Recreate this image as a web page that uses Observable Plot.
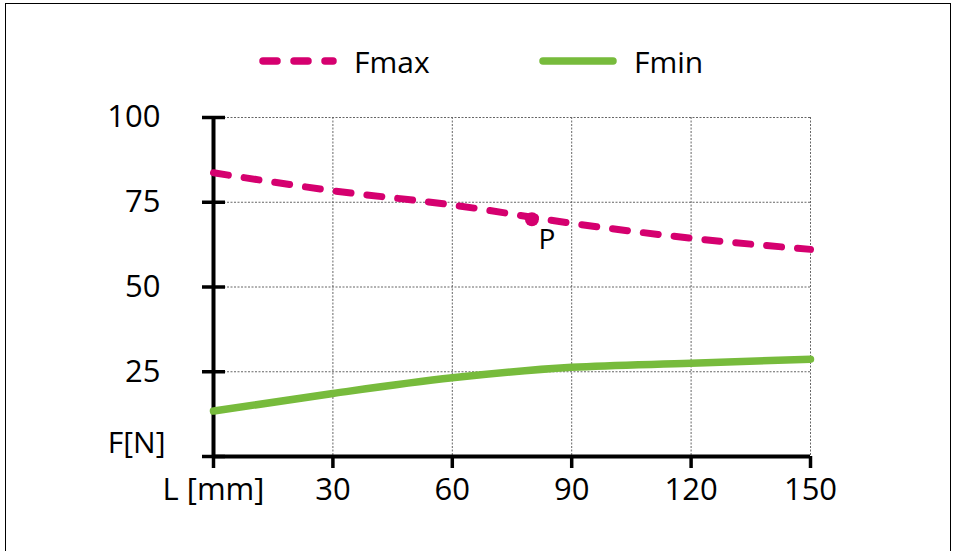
<!DOCTYPE html>
<html>
<head>
<meta charset="utf-8">
<script src="https://cdn.jsdelivr.net/npm/d3@7"></script>
<script src="https://cdn.jsdelivr.net/npm/@observablehq/plot@0.6"></script>
<style>
  html, body { margin: 0; padding: 0; background: #fff; }
  body { width: 954px; height: 551px; position: relative; overflow: hidden; font-family: "Open Sans", sans-serif; }
  #frame { position: absolute; left: 5px; top: 3px; width: 946px; height: 600px; border: 1px solid #000; box-sizing: border-box; }
  #chart { position: absolute; left: 0; top: 0; }
  .leg { position: absolute; top: 43px; height: 36px; display: flex; align-items: center; font-size: 30px; color: #000; }
  .leg svg { margin-right: 14px; }
</style>
</head>
<body>
<div id="frame"></div>
<div id="chart"></div>
<div class="leg" id="leg1" style="left:256px"></div>
<div class="leg" id="leg2" style="left:536px"></div>
<script>
// ---- data ----
const L = [0, 30, 60, 90, 120, 150];
const Fmax = [83.7, 78.4, 74.2, 68.8, 64.4, 61.1];
const Fmin = [13.4, 18.6, 23.2, 26.3, 27.5, 28.7];
const pointL = [80];
const pointF = [70];
const pointLabel = ["P"];
const xTicks = [0, 30, 60, 90, 120, 150];
const yTicks = [0, 25, 50, 75, 100];
const xZeroLabel = "L [mm]";
const yTitle = "F[N]";
const seriesNames = ["Fmax", "Fmin"];
const colors = ["#d5006f", "#77bb3c"];

const chart = Plot.plot({
  width: 954,
  height: 551,
  marginLeft: 213,
  marginRight: 144,
  marginTop: 117,
  marginBottom: 95,
  style: { fontFamily: "Open Sans", fontSize: "31px", color: "#000", background: "transparent", overflow: "visible" },
  x: { domain: [0, 150] },
  y: { domain: [0, 100] },
  marks: [
    Plot.gridX(xTicks.filter(d => d > 0), { stroke: "#666", strokeOpacity: 1, strokeWidth: 1, strokeDasharray: "2,1.5" }),
    Plot.gridY(yTicks.filter(d => d > 0), { stroke: "#666", strokeOpacity: 1, strokeWidth: 1, strokeDasharray: "2,1.5" }),
    Plot.ruleX([0], { stroke: "#000", strokeWidth: 4 }),
    Plot.ruleY([0], { stroke: "#000", strokeWidth: 4 }),
    Plot.axisY(yTicks, { tickSize: 23, dx: 12, tickFormat: () => "", label: null, stroke: "#000", strokeWidth: 3.5 }),
    Plot.axisY(yTicks.filter(d => d > 0), { tickSize: 0, tickPadding: 53, label: null, fontSize: 31, fill: "#000" }),
    Plot.axisX(xTicks, { tickSize: 12, tickPadding: 9, strokeWidth: 3.5, stroke: "#000", label: null, fontSize: 31, fill: "#000",
      tickFormat: d => d === 0 ? xZeroLabel : String(d) }),
    Plot.text([yTitle], { frameAnchor: "bottom-left", dx: -48, dy: -13, textAnchor: "end", lineAnchor: "middle", fontSize: 30, fill: "#000" }),
    Plot.line(L, { x: d => d, y: (d, i) => Fmin[i], stroke: colors[1], strokeWidth: 7.5, strokeLinecap: "round", curve: "monotone-x" }),
    Plot.line(L, { x: d => d, y: (d, i) => Fmax[i], stroke: colors[0], strokeWidth: 7, strokeDasharray: "15,16", strokeLinecap: "round", curve: "monotone-x" }),
    Plot.dot(pointL, { x: d => d, y: (d, i) => pointF[i], r: 7, fill: colors[0], stroke: "none" }),
    Plot.text(pointL, { x: d => d, y: (d, i) => pointF[i], text: (d, i) => pointLabel[i], dx: 15, dy: 21, fontSize: 28, fill: "#000" })
  ]
});
document.getElementById("chart").appendChild(chart);

// ---- legend ----
function swatch(color, dashed) {
  const ns = "http://www.w3.org/2000/svg";
  const s = document.createElementNS(ns, "svg");
  s.setAttribute("width", 84); s.setAttribute("height", 14);
  const l = document.createElementNS(ns, "line");
  l.setAttribute("x1", 7); l.setAttribute("x2", 77); l.setAttribute("y1", 7); l.setAttribute("y2", 7);
  l.setAttribute("stroke", color); l.setAttribute("stroke-width", 7.5); l.setAttribute("stroke-linecap", "round");
  if (dashed) l.setAttribute("stroke-dasharray", "14,17");
  s.appendChild(l);
  return s;
}
const leg1 = document.getElementById("leg1");
leg1.appendChild(swatch(colors[0], true));
leg1.appendChild(document.createTextNode(seriesNames[0]));
const leg2 = document.getElementById("leg2");
leg2.appendChild(swatch(colors[1], false));
leg2.appendChild(document.createTextNode(seriesNames[1]));
</script>
</body>
</html>
